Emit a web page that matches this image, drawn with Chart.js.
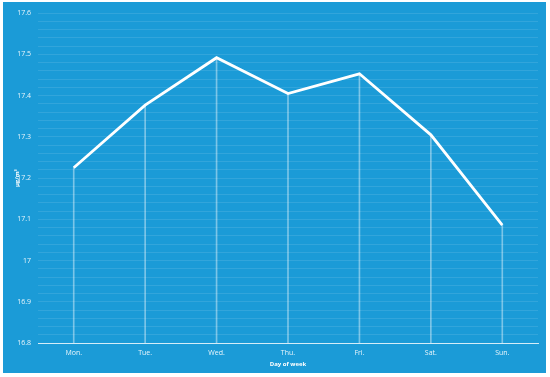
<!DOCTYPE html>
<html>
<head>
<meta charset="utf-8">
<script src="https://cdn.jsdelivr.net/npm/chart.js@4/dist/chart.umd.min.js"></script>
<style>
  html, body { margin: 0; padding: 0; background: #ffffff; }
  #wrap { position: absolute; left: 3px; top: 2px; width: 543px; height: 371px; background: #1b9bd7; }
</style>
</head>
<body>
<div id="wrap"><canvas id="chart"></canvas></div>
<script>
// Data
const days = ["Mon.", "Tue.", "Wed.", "Thu.", "Fri.", "Sat.", "Sun."];
const pm = [17.225, 17.377, 17.492, 17.405, 17.453, 17.305, 17.086];
const yMin = 16.8;
const yMax = 17.6;
const yStep = 0.02; // faint minor grid
const labelStep = 0.1;

const data = {
  labels: days,
  datasets: [
    {
      type: "line",
      data: pm,
      borderColor: "#ffffff",
      borderWidth: 2.8,
      pointRadius: 0,
      tension: 0,
      order: 0,
    },
    {
      // thin drop lines under each point
      type: "bar",
      data: pm,
      backgroundColor: "rgba(255,255,255,0.42)",
      barThickness: 1,
      order: 1,
    },
  ],
};

const config = {
  data,
  options: {
    responsive: true,
    maintainAspectRatio: false,
    animation: false,
    layout: { padding: { left: 11, right: 8, top: 8, bottom: 5 } },
    plugins: { legend: { display: false }, tooltip: { enabled: false } },
    scales: {
      x: {
        offset: true,
        grid: { display: false, drawTicks: false },
        border: { display: true, color: "rgba(255,255,255,0.8)", width: 1 },
        ticks: { color: "rgba(255,255,255,0.9)", font: { family: "Open Sans", size: 7 }, padding: 6 },
        title: {
          display: true,
          text: "Day of week",
          color: "#ffffff",
          font: { family: "Open Sans", size: 6, weight: "bold" },
          padding: { top: 0, bottom: 0 },
        },
        afterFit: (axis) => { axis.height = 25; },
      },
      y: {
        min: yMin,
        max: yMax,
        border: { display: false },
        grid: { color: "rgba(255,255,255,0.1)", drawTicks: false, lineWidth: 1 },
        ticks: {
          stepSize: yStep,
          autoSkip: false,
          color: "rgba(255,255,255,0.9)",
          font: { family: "Open Sans", size: 7 },
          padding: 7,
          callback: (v) => {
            const r = v / labelStep;
            if (Math.abs(r - Math.round(r)) < 1e-6) return String(Math.round(v * 10) / 10);
            return "";
          },
        },
        title: {
          display: true,
          text: "μg/m³",
          color: "#ffffff",
          font: { family: "Open Sans", size: 6, weight: "bold" },
          padding: { top: 0, bottom: 4 },
        },
        afterFit: (axis) => { axis.width = 24; },
      },
    },
  },
};

const canvas = document.getElementById("chart");
const myChart = new Chart(canvas, config);
</script>
</body>
</html>
